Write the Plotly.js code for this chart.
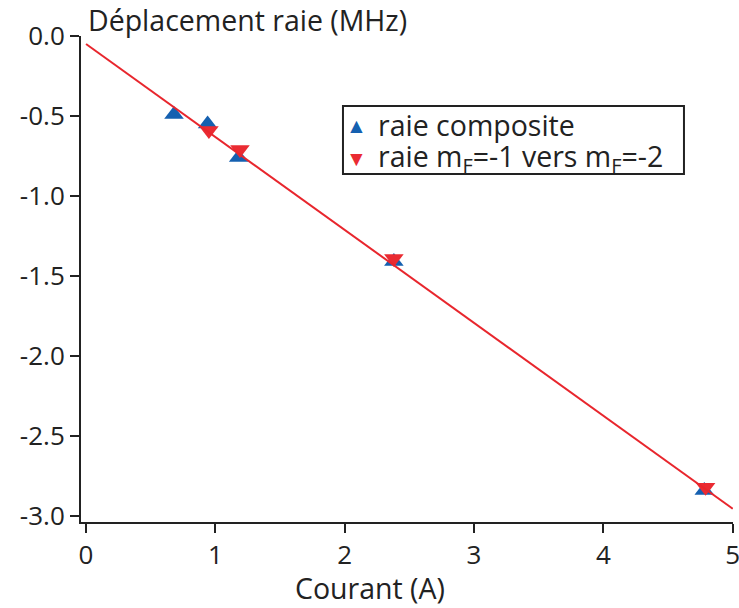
<!DOCTYPE html>
<html>
<head>
<meta charset="utf-8">
<script src="https://cdn.plot.ly/plotly-3.0.1.min.js"></script>
<style>html,body{margin:0;padding:0;background:#fff;}#chart{width:739px;height:608px;}</style>
</head>
<body>
<div id="chart"></div>
<script>
// Data
const compositeCurrent = [0.68, 0.94, 1.18, 2.38, 4.78];
const compositeShift   = [-0.49, -0.55, -0.76, -1.41, -2.84];
const mfCurrent = [0.95, 1.19, 2.38, 4.79];
const mfShift   = [-0.59, -0.71, -1.39, -2.82];
const fitCurrent = [0, 5];
const fitShift   = [-0.05, -2.955];
const seriesNames = ["raie composite", "raie m<sub>F</sub>=-1 vers m<sub>F</sub>=-2"];
const xTicks = [0, 1, 2, 3, 4, 5];
const yTicks = [0, -0.5, -1, -1.5, -2, -2.5, -3];
const yTickText = ["0.0", "-0.5", "-1.0", "-1.5", "-2.0", "-2.5", "-3.0"];

const FONT = "Open Sans, sans-serif";
const INK = "#222";
const BLUE = "#1560b0";
const RED = "#ea2b32";
const traces = [
  {x: compositeCurrent, y: compositeShift, mode: "markers", type: "scatter", name: seriesNames[0],
   showlegend: false, marker: {symbol: "triangle-up", size: 17, color: BLUE}},
  {x: mfCurrent, y: mfShift, mode: "markers", type: "scatter", name: seriesNames[1],
   showlegend: false, marker: {symbol: "triangle-down", size: 17, color: RED}},
  {x: fitCurrent, y: fitShift, mode: "lines", type: "scatter", showlegend: false,
   line: {color: "#e8262d", width: 2}}
];
// Legend box drawn by hand (paper coordinates)
const legX0 = 0.4018, legX1 = 0.9248, legY0 = 0.716, legY1 = 0.856;
const rowY = [0.817, 0.749];
const symX = 0.423, txtX = 0.4525;
const legendAnn = [
  {text: "▲", x: symX, y: rowY[0], color: BLUE, size: 21, anchor: "center"},
  {text: "▼", x: symX, y: rowY[1], color: RED, size: 21, anchor: "center"},
  {text: seriesNames[0], x: txtX, y: rowY[0], color: INK, size: 28.5, anchor: "left"},
  {text: seriesNames[1], x: txtX, y: rowY[1], color: INK, size: 28.5, anchor: "left"}
].map(a => ({text: a.text, xref: "paper", yref: "paper", x: a.x, y: a.y, xanchor: a.anchor,
  yanchor: "middle", showarrow: false, font: {family: FONT, size: a.size, color: a.color}}));

const layout = {
  width: 739, height: 608,
  margin: {l: 81, r: 6, t: 36, b: 86},
  paper_bgcolor: "#fff", plot_bgcolor: "#fff",
  font: {family: FONT, size: 26, color: INK},
  showlegend: false,
  xaxis: {range: [-0.039, 5.002], tickvals: xTicks, ticks: "outside", ticklen: 9, tickwidth: 2,
    tickcolor: INK, showline: true, linecolor: INK, linewidth: 2, showgrid: false,
    zeroline: false, ticklabeloverflow: "allow", tickfont: {family: FONT, size: 26, color: INK}},
  yaxis: {range: [-3.0375, 0], tickvals: yTicks, ticktext: yTickText, ticks: "outside", ticklen: 9,
    tickwidth: 2, tickcolor: INK, showline: true, linecolor: INK, linewidth: 2,
    showgrid: false, zeroline: false, ticklabeloverflow: "allow",
    tickfont: {family: FONT, size: 26, color: INK}},
  shapes: [{type: "rect", xref: "paper", yref: "paper", x0: legX0, x1: legX1, y0: legY0, y1: legY1,
    line: {color: INK, width: 2}, fillcolor: "#fff", layer: "below"}],
  annotations: [
    {text: "Déplacement raie (MHz)", xref: "paper", yref: "paper", x: 0.008, y: 1,
     xanchor: "left", yanchor: "bottom", yshift: -5, showarrow: false,
     font: {family: FONT, size: 28.5, color: INK}},
    {text: "Courant (A)", xref: "paper", yref: "paper", x: 0.443, y: 0,
     xanchor: "center", yanchor: "top", yshift: -45, showarrow: false,
     font: {family: FONT, size: 28.5, color: INK}}
  ].concat(legendAnn)
};
Plotly.newPlot("chart", traces, layout, {displayModeBar: false, staticPlot: true});
</script>
</body>
</html>
